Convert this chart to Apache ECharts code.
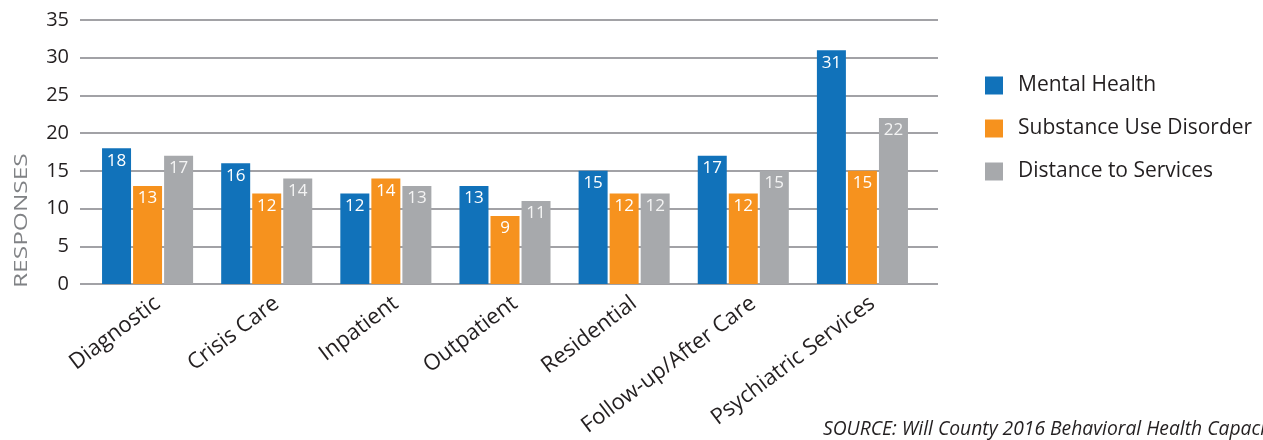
<!DOCTYPE html>
<html>
<head>
<meta charset="utf-8">
<script src="https://cdn.jsdelivr.net/npm/echarts@6/dist/echarts.min.js"></script>
<style>
html,body{margin:0;padding:0;background:#fff;}
#c{width:1263px;height:440px;}
</style>
</head>
<body>
<div id="c"></div>
<script>
const categories = ['Diagnostic','Crisis Care','Inpatient','Outpatient','Residential','Follow-up/After Care','Psychiatric Services'];
const seriesNames = ['Mental Health','Substance Use Disorder','Distance to Services'];
const mentalHealth = [18,16,12,13,15,17,31];
const substanceUse = [13,12,14,9,12,12,15];
const distance = [17,14,13,11,12,15,22];
const yTicks = [0,5,10,15,20,25,30,35];
const colors = ['#1172BA','#F6921E','#A7A9AC'];
const FONT = '"Open Sans", "Noto Sans", sans-serif';

const chart = echarts.init(document.getElementById('c'), null, {renderer:'canvas'});
const gTop = 20, gBottom = 440-284;
const mkSeries = (name, data, color, labelColor) => ({
  name, type:'bar', data, xAxisIndex:1, yAxisIndex:1,
  barWidth:29, barGap:'7%',
  itemStyle:{color},
  label:{show:true, position:'insideTop', distance:4, color:labelColor, fontSize:17, fontFamily:FONT},
  emphasis:{disabled:true}
});
chart.setOption({
  animation:false,
  textStyle:{fontFamily:FONT},
  grid:[
    {left:80, right:1263-938, top:gTop, bottom:gBottom},
    {left:88, right:1263-922, top:gTop, bottom:gBottom},
    {left:98, right:1263-932, top:gTop, bottom:gBottom}
  ],
  xAxis:[
    {type:'value', gridIndex:0, show:false, min:0, max:1},
    {type:'category', gridIndex:1, data:categories,
     axisLine:{show:false}, axisTick:{show:false}, axisLabel:{show:false}},
    {type:'category', gridIndex:2, data:categories,
     axisLine:{show:false}, axisTick:{show:false},
     axisLabel:{rotate:37, margin:17, fontSize:22, color:'#231F20', fontFamily:FONT, interval:0}}
  ],
  yAxis:[
    {type:'value', gridIndex:0, min:yTicks[0], max:yTicks[yTicks.length-1], interval:5,
     axisLine:{show:false}, axisTick:{show:false},
     axisLabel:{fontSize:20, color:'#231F20', margin:11, fontFamily:FONT},
     splitLine:{lineStyle:{color:'#A2A2A6', width:2}}},
    {type:'value', gridIndex:1, min:0, max:35, show:false, splitLine:{show:false}},
    {type:'value', gridIndex:2, min:0, max:35, show:false, splitLine:{show:false}}
  ],
  legend:{
    orient:'vertical', left:985, top:75, padding:0, icon:'rect', itemWidth:18, itemHeight:18, itemGap:22,
    textStyle:{fontSize:21, color:'#231F20', fontFamily:FONT, lineHeight:21, padding:[0,0,0,10]},
    data:seriesNames
  },
  series:[
    mkSeries(seriesNames[0], mentalHealth, colors[0], '#ffffff'),
    mkSeries(seriesNames[1], substanceUse, colors[1], '#ffffff'),
    mkSeries(seriesNames[2], distance, colors[2], '#f4f4f4')
  ],
  graphic:[
    {type:'text', x:13, y:288, rotation:Math.PI/2, scaleX:1.36,
     style:{text:'RESPONSES', fontSize:18, fill:'#808285', fontFamily:FONT}},
    {type:'text', x:823, y:420,
     style:{text:'SOURCE: Will County 2016 Behavioral Health Capacity Assessment', fontSize:19.3, fontStyle:'italic', fill:'#231F20', fontFamily:FONT}}
  ]
});
</script>
</body>
</html>
